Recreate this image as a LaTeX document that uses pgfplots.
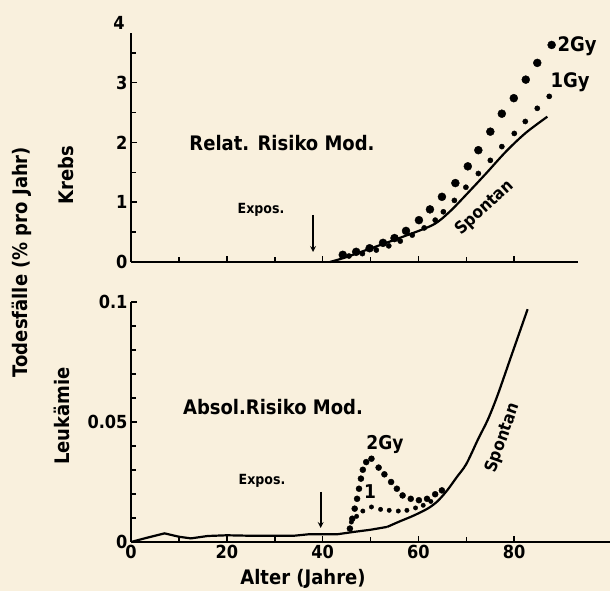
\documentclass[border=0pt]{standalone}
\usepackage{fontspec}
\setmainfont{DejaVu Sans Condensed}
\usepackage{pgfplots}
\pgfplotsset{compat=1.18}
\definecolor{paper}{RGB}{249,240,221}
\newcommand{\fs}[1]{\fontsize{#1}{#1}\selectfont\bfseries}

\pgfplotsset{
  myax/.style={
    scale only axis, anchor=south west,
    axis x line=bottom, axis y line=left,
    axis line style={-, line width=2pt},
    tick align=inside,
    major tick length=6pt, minor tick length=5pt,
    every major tick/.style={black, line width=1.6pt},
    every minor tick/.style={black, line width=1.6pt},
    xmin=0,
    xtick={0,20,40,60,80}, minor xtick={10,30,50,70},
    tick label style={font=\fs{18}},
    /pgf/number format/assume math mode=true,
    clip=false,
  }
}

\begin{document}
\begin{tikzpicture}[x=1pt,y=1pt]
\useasboundingbox (0,0) rectangle (610,591);
\fill[paper] (0,0) rectangle (610,591);

% ---------------- top panel: Krebs ----------------
\begin{axis}[myax,
  at={(131pt,329pt)}, width=447pt, height=229pt,
  xmax=93.3, ymin=0, ymax=3.83,
  xticklabels={},
  ytick={0,1,2,3}, minor ytick={0.5,1.5,2.5,3.5},
]
\addplot[black, line width=2.2pt, smooth] coordinates {
(41.5,0) (44.5,0.07) (49.1,0.2) (56.0,0.40) (63.0,0.62) (66.5,0.84) (69.9,1.12)
(74.1,1.48) (78.3,1.85) (82.4,2.16) (86.9,2.43)};
% 2 Gy
\addplot[only marks, mark=*, mark size=4pt, black] coordinates {
(44.2,0.12) (47.0,0.17) (49.8,0.23) (52.6,0.32) (55.0,0.40) (57.4,0.52) (60.1,0.70)
(62.4,0.88) (64.9,1.09) (67.7,1.32) (70.3,1.60) (72.5,1.87) (75.0,2.18) (77.4,2.48)
(79.9,2.74) (82.4,3.05) (84.8,3.33) (87.8,3.63)};
% 1 Gy
\addplot[only marks, mark=*, mark size=2.6pt, black] coordinates {
(45.5,0.10) (48.3,0.14) (51.2,0.20) (53.8,0.27) (56.2,0.35) (58.7,0.45) (61.2,0.57)
(63.5,0.70) (65.2,0.84) (67.5,1.03) (69.9,1.25) (72.5,1.48) (75.0,1.70) (77.4,1.93)
(80.0,2.15) (82.3,2.35) (84.8,2.57) (87.3,2.77)};
\node[anchor=east, inner sep=0pt, font=\fs{18}] at (axis cs:-1.3,4) {4};
\end{axis}

% ---------------- bottom panel: Leukaemie ----------------
\begin{axis}[myax,
  at={(131pt,49pt)}, width=479pt, height=240pt,
  xmax=100, ymin=0, ymax=0.1,
  ytick={0,0.05,0.1}, yticklabels={0,0.05,0.1},
  minor ytick={0.01,0.02,0.03,0.04,0.06,0.07,0.08,0.09},
]
\addplot[black, line width=2.2pt] coordinates {
(0,0) (3,0.0016) (7,0.0036) (10,0.0022) (12.5,0.0015) (16,0.0025) (20,0.0028)
(25,0.0026) (30,0.0026) (34,0.0026) (37,0.0032) (40,0.0032) (43,0.0032)
(46.5,0.0042) (50,0.0051) (53.5,0.0063)};
\addplot[black, line width=2.2pt, smooth] coordinates {
(53.5,0.0063) (56,0.0085) (59,0.011) (62,0.014)
(64,0.017) (66,0.0215) (68,0.027) (70,0.0325) (72.5,0.043) (74.5,0.051)
(76.5,0.061) (79.3,0.077) (82.8,0.097)};
% 2 Gy
\addplot[only marks, mark=*, mark size=3pt, black] coordinates {
(45.7,0.0056) (46.2,0.0097) (46.7,0.0139) (47.2,0.018) (47.6,0.0222) (48.0,0.0264)
(48.4,0.0301) (49.1,0.0333) (50.2,0.0347) (51.7,0.031) (52.9,0.0282) (54.3,0.025)
(55.5,0.0222) (56.7,0.0194) (58.4,0.018) (60.1,0.0174) (61.8,0.018) (63.5,0.0199)
(64.9,0.0215)};
% 1 Gy
\addplot[only marks, mark=*, mark size=2.2pt, black] coordinates {
(45.7,0.0056) (46.0,0.0083) (47.1,0.0107) (48.4,0.0129) (50.2,0.0146) (52.1,0.0136)
(53.9,0.0132) (55.8,0.0129) (57.6,0.0132) (59.4,0.0142) (61.0,0.0153) (62.6,0.0169)};
\end{axis}

% ---------------- annotations ----------------
\node[font=\fs{20}] at (282,448) {Relat. Risiko Mod.};
\node[font=\fs{14}] at (261,381) {Expos.};
\draw[-stealth, line width=1.6pt] (313,376) -- (313,339);
\node[font=\fs{20}] at (577,545) {2Gy};
\node[font=\fs{20}] at (570,509) {1Gy};
\node[font=\fs{17}, rotate=42.6] at (485,383) {Spontan};

\node[font=\fs{20}] at (273,184) {Absol.Risiko Mod.};
\node[font=\fs{14}] at (262,110) {Expos.};
\draw[-stealth, line width=1.6pt] (320.7,99) -- (320.7,63);
\node[font=\fs{19}] at (385,146) {2Gy};
\node[font=\fs{19}] at (370,99) {1};
\node[font=\fs{17}, rotate=70.5] at (503,153) {Spontan};

\node[font=\fs{20}, rotate=90] at (22,329) {Todesfälle (\% pro Jahr)};
\node[font=\fs{20}, rotate=90] at (66,416) {Krebs};
\node[font=\fs{20}, rotate=90] at (62,175) {Leukämie};
\node[font=\fs{20}, anchor=base] at (303,6) {Alter (Jahre)};
\end{tikzpicture}
\end{document}
